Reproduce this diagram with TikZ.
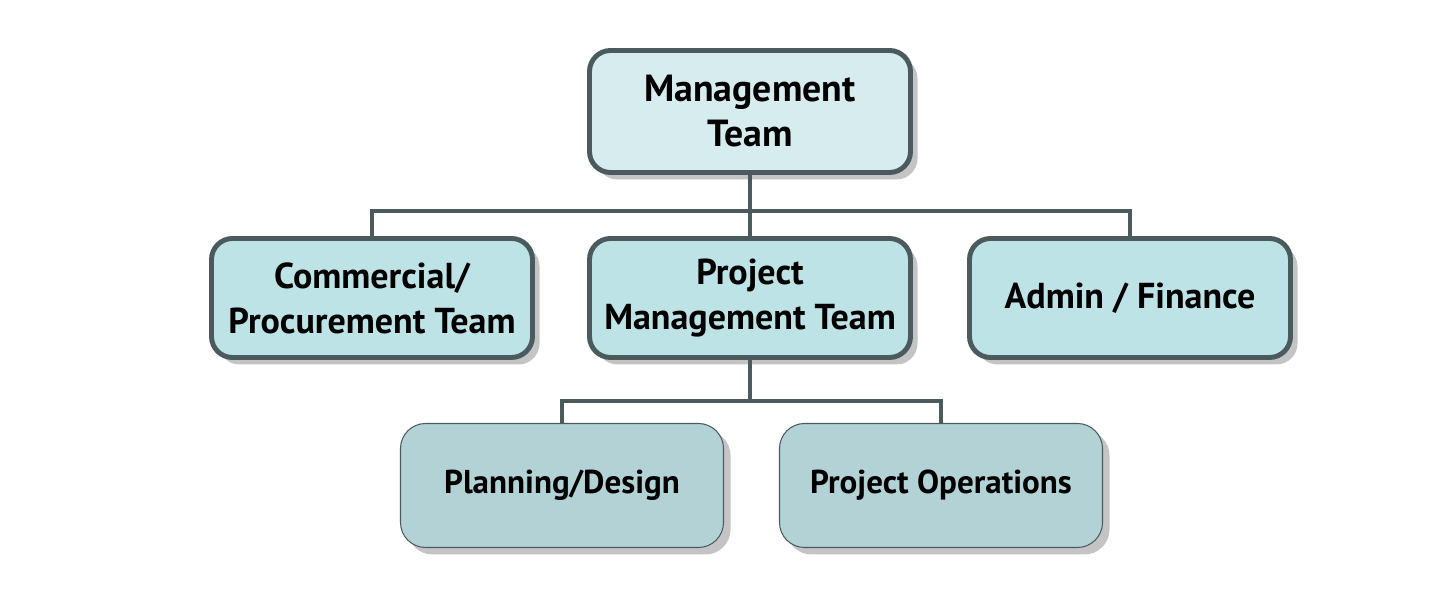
\documentclass[tikz,border=0pt]{standalone}
\usepackage{fontspec}
\setmainfont{PT Sans}
\usepackage{tikz}
\usetikzlibrary{positioning,shadows}
\definecolor{edgegray}{HTML}{4B5B5D}
\definecolor{topfill}{HTML}{D6ECEF}
\definecolor{midfill}{HTML}{BEE3E6}
\definecolor{lowfill}{HTML}{B2D2D5}
\definecolor{shadowgray}{HTML}{C4C4C4}
\tikzset{every picture/.style={line width=0.75pt}}
\tikzset{
  teambox/.style={draw=edgegray, line width=2.8pt, rounded corners=0.42cm,
    minimum width=6.42cm, minimum height=2.38cm, align=center,
    font=\fontsize{20.5}{25.6}\selectfont\bfseries,
    drop shadow={shadow xshift=0.14cm, shadow yshift=-0.14cm, fill=shadowgray, opacity=1}},
  subbox/.style={draw=edgegray, line width=0.6pt, rounded corners=0.5cm,
    minimum width=6.46cm, minimum height=2.48cm, align=center, fill=lowfill,
    font=\fontsize{18.8}{24}\selectfont\bfseries,
    drop shadow={shadow xshift=0.14cm, shadow yshift=-0.14cm, fill=shadowgray, opacity=1}},
  link/.style={draw=edgegray, line width=2.6pt}
}

\begin{document}
\begin{tikzpicture}
\useasboundingbox (0,0) rectangle (28.62,12.3);
% top
\node[teambox, fill=topfill, minimum height=2.44cm, font=\fontsize{21.5}{25.6}\selectfont\bfseries] (mgmt) at (15.0,10.07) {Management\\Team};
% second row
\node[teambox, fill=midfill] (comm) at (7.44,6.34) {Commercial/\\Procurement Team};
\node[teambox, fill=midfill] (proj) at (15.0,6.34) {Project\\Management Team};
\node[teambox, fill=midfill] (admin) at (22.6,6.34) {Admin / Finance};
% third row
\node[subbox] (plan) at (11.24,2.59) {Planning/Design};
\node[subbox] (ops) at (18.82,2.59) {Project Operations};
%
\coordinate (j1) at (15.0,8.08);
\coordinate (j2) at (15.0,4.28);
%
\draw[link] (mgmt.south) -- (j1);
\draw[link] (proj.south) -- (j2);
\foreach \Target in {comm,proj,admin}
\draw[link] (j1) -| (\Target.north);
\foreach \Target in {plan,ops}
\draw[link] (j2) -| (\Target.north);
\end{tikzpicture}
\end{document}
